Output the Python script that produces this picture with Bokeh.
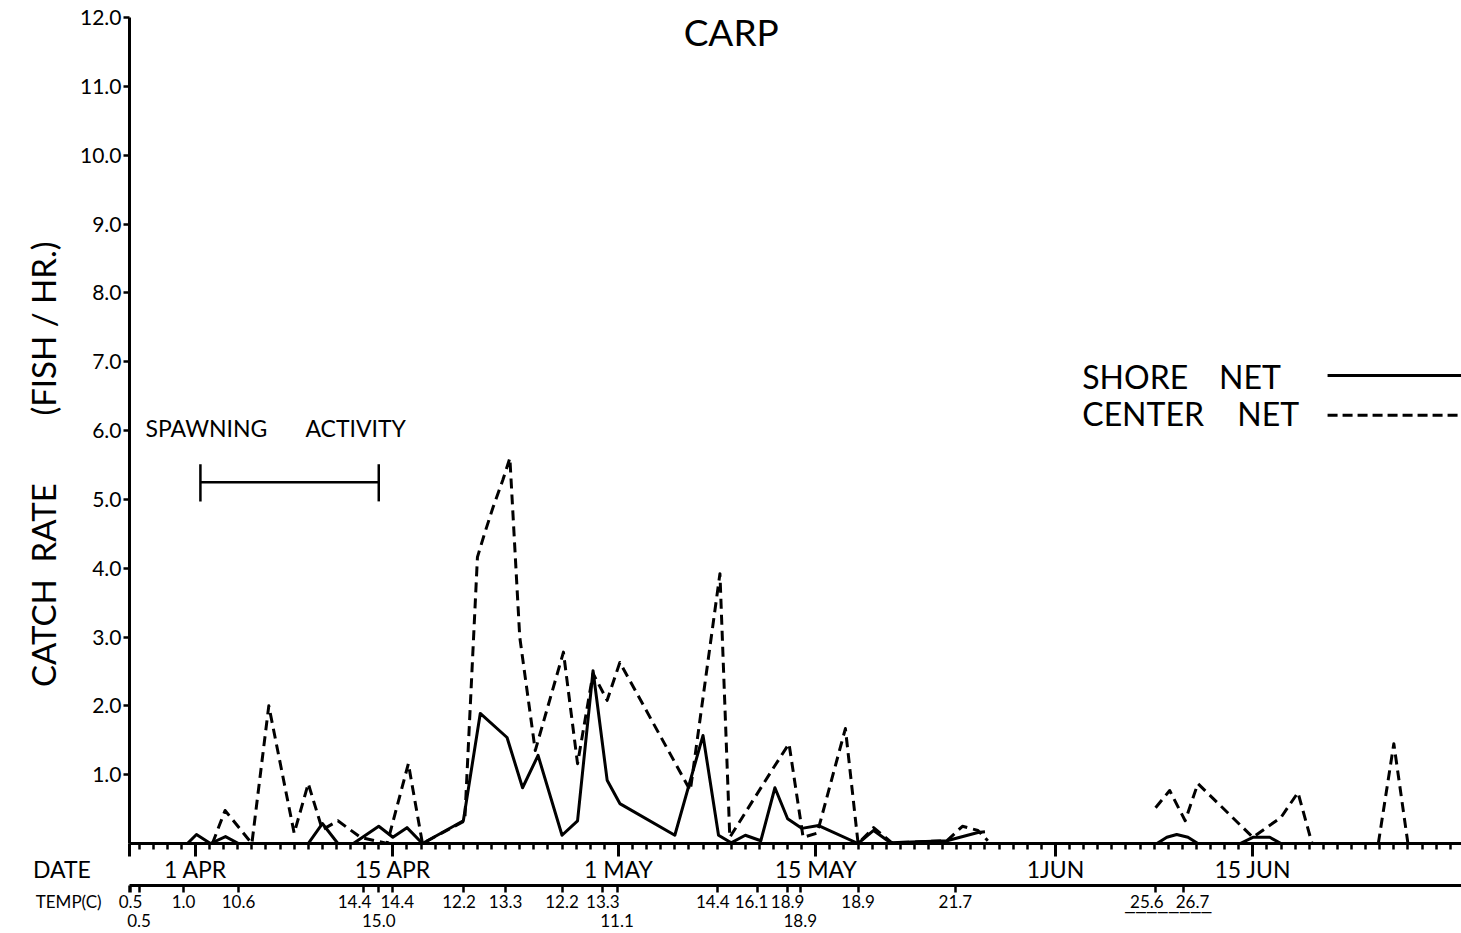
import math

from bokeh.embed import file_html
from bokeh.models import FixedTicker, Label, LinearAxis, Range1d
from bokeh.plotting import figure
from bokeh.resources import INLINE

FONT = "Lato"
NaN = math.nan
NBSP = "\u00a0"

# x positions are days counted from 1 April (day 0)
date_ticks = [0, 14, 30, 44, 61, 75]
date_labels = ["1 APR", "15 APR", "1 MAY", "15 MAY", "1JUN", "15 JUN"]

# shore net catch rate (fish / hr); NaN splits the separate runs of samples
shore_days = [-0.57, 0.07, 1.06, 2.13, 3.05, 8.0, 9.0, 10.1, 11.2, 13.0, 14.0,
              15.0, 16.1, 19.0, 20.2, 22.1, 23.2, 24.3, 26.0, 27.1, 28.2, 29.2,
              30.1, 34.0, 36.0, 37.1, 38.0, 39.0, 40.1, 41.1, 42.0, 43.0, 44.2,
              47.0, 48.1, 49.3, 53.3, 55.5, 56.0, NaN,
              68.2, 68.9, 69.6, 70.4, 71.1, NaN,
              74.1, 75.0, 76.2, 77.0]
shore_rate = [0.0, 0.13, 0.0, 0.10, 0.0, 0.0, 0.29, 0.0, 0.0, 0.25, 0.09,
              0.23, 0.0, 0.33, 1.89, 1.54, 0.81, 1.28, 0.12, 0.33, 2.51, 0.92,
              0.58, 0.12, 1.57, 0.12, 0.01, 0.12, 0.04, 0.81, 0.36, 0.22, 0.26,
              0.0, 0.19, 0.01, 0.04, 0.16, 0.17, NaN,
              0.0, 0.09, 0.13, 0.09, 0.0, NaN,
              0.0, 0.09, 0.09, 0.0]

# center net catch rate (fish / hr)
center_days = [1.2, 2.1, 4.0, 5.2, 7.0, 8.0, 9.0, 10.1, 11.7, 13.6, 15.1, 16.1,
               19.1, 20.0, 20.5, 21.1, 21.8, 22.3, 23.0, 24.1, 26.1, 27.1, 28.2,
               29.2, 30.1, 35.1, 37.2, 37.9, 41.0, 42.1, 43.1, 44.1, 46.1, 47.0,
               48.1, 49.4, 53.3, 54.4, 55.5, 56.2, NaN,
               68.1, 69.1, 70.2, 71.1, 75.0, 77.0, 78.2, 79.2, NaN,
               83.9, 85.0, 86.0]
center_rate = [0.0, 0.48, 0.0, 2.0, 0.15, 0.87, 0.2, 0.33, 0.09, 0.0, 1.16, 0.0,
               0.33, 4.16, 4.5, 4.88, 5.28, 5.6, 3.0, 1.35, 2.78, 1.16, 2.47,
               2.08, 2.63, 0.77, 3.92, 0.09, 1.10, 1.45, 0.09, 0.15, 1.67, 0.0,
               0.23, 0.01, 0.04, 0.25, 0.19, 0.04, NaN,
               0.52, 0.77, 0.33, 0.87, 0.09, 0.38, 0.74, 0.0, NaN,
               0.0, 1.45, 0.0]

# water temperature (C) on sampling days; the second list is printed on a lower row
temp_days = [-4.6, -0.85, 3.05, 11.9, 14.0, 19.0, 22.0, 26.0, 28.9, 37.0, 39.9,
             42.0, 47.0, 53.9, 68.1, 70.1]
temp_values = ["0.5", "1.0", "10.6", "14.4", "14.4", "12.2", "13.3", "12.2",
               "13.3", "14.4", "16.1", "18.9", "18.9", "21.7", "25.6", "26.7"]
temp_days_low = [-4.0, 13.0, 29.9, 42.9]
temp_values_low = ["0.5", "15.0", "11.1", "18.9"]

rate_ticks = list(range(1, 13))

# spawning period bar
spawn_start, spawn_end, spawn_level = 0.35, 13.0, 5.25

X0, X1 = -4.68, 89.8
LEFT_TICK = X0 + 0.01


def nudge(text, spaces):
    """Shift a centred tick label sideways by padding it with no-break spaces."""
    if spaces > 0:
        return NBSP * spaces + text
    return text + NBSP * (-spaces)


# per-label sideways nudges (in spaces) for crowded temperature readings
temp_nudge = {11.9: -4, 14.0: 2, 19.0: -2, 37.0: -2, 39.9: -3, 68.1: -4, 70.1: 4}

p = figure(width=1461, height=933, title=None,
           x_range=Range1d(X0, X1), y_range=Range1d(0, 12),
           output_backend="svg", toolbar_location=None,
           min_border_left=129, min_border_right=0,
           min_border_top=17, min_border_bottom=90)
p.grid.visible = False
p.outline_line_color = None
p.background_fill_color = "white"
p.border_fill_color = "white"

# y axis
ya = p.yaxis[0]
ya.ticker = FixedTicker(ticks=rate_ticks, minor_ticks=[])
ya.major_label_overrides = {t: f"{t}.0" for t in rate_ticks}
ya.axis_line_width = 3
ya.major_tick_line_width = 2.5
ya.major_tick_in = 0
ya.major_tick_out = 6
ya.major_label_standoff = 2
ya.major_label_text_font = FONT
ya.major_label_text_font_size = "21px"
ya.major_label_text_color = "black"
ya.axis_label = (f"CATCH{NBSP * 2}RATE{NBSP * 8}(FISH{NBSP}/{NBSP}HR.)"
                 + NBSP * 8)
ya.axis_label_text_font = FONT
ya.axis_label_text_font_size = "33px"
ya.axis_label_text_font_style = "normal"
ya.axis_label_text_color = "black"
ya.axis_label_standoff = 14

# date axis; its left-end tick carries the row title
xa = p.xaxis[0]
xa.ticker = FixedTicker(ticks=[LEFT_TICK] + date_ticks, minor_ticks=list(range(-4, 90)))
xa.major_label_overrides = {LEFT_TICK: nudge("DATE", -23),
                            **dict(zip(date_ticks, date_labels))}
xa.axis_line_width = 3
xa.major_tick_line_width = 3
xa.minor_tick_line_width = 2.5
xa.major_tick_in = 0
xa.major_tick_out = 13
xa.minor_tick_in = 0
xa.minor_tick_out = 6
xa.major_label_standoff = -2
xa.major_label_text_font = FONT
xa.major_label_text_font_size = "23px"
xa.major_label_text_color = "black"

# temperature row
temp_labels = {d: nudge(v, temp_nudge.get(d, 0)) for d, v in zip(temp_days, temp_values)}
ta = LinearAxis(ticker=FixedTicker(ticks=[LEFT_TICK] + temp_days + temp_days_low,
                                   minor_ticks=[]))
ta.major_label_overrides = {LEFT_TICK: nudge("TEMP(C)", -28), **temp_labels,
                            **{d: "" for d in temp_days_low}}
ta.axis_line_width = 3
ta.major_tick_line_width = 2.5
ta.major_tick_in = 0
ta.major_tick_out = 7
ta.major_label_standoff = -2
ta.major_label_text_font = FONT
ta.major_label_text_font_size = "17px"
ta.major_label_text_color = "black"
p.add_layout(ta, "below")

# lower row of temperatures, plus the bar drawn over the June readings
JUNE_BAR = 69.0
tl = LinearAxis(ticker=FixedTicker(ticks=temp_days_low + [JUNE_BAR], minor_ticks=[]))
tl.major_label_overrides = {**dict(zip(temp_days_low, temp_values_low)),
                            JUNE_BAR: "\u203e" * 8}
tl.axis_line_color = None
tl.major_tick_line_color = None
tl.minor_tick_line_color = None
tl.major_tick_in = 0
tl.major_tick_out = 0
tl.major_label_standoff = -5
tl.major_label_text_font = FONT
tl.major_label_text_font_size = "17px"
tl.major_label_text_color = "black"
p.add_layout(tl, "below")

# catch-rate lines
p.line(shore_days, shore_rate, line_color="black", line_width=3, line_join="round")
p.line(center_days, center_rate, line_color="black", line_width=3,
       line_dash="10 6", line_join="round")

# spawning activity bar with end caps
p.segment(x0=[spawn_start], y0=[spawn_level], x1=[spawn_end], y1=[spawn_level],
          line_color="black", line_width=2.5)
p.segment(x0=[spawn_start, spawn_end], y0=[spawn_level - 0.28] * 2,
          x1=[spawn_start, spawn_end], y1=[spawn_level + 0.26] * 2,
          line_color="black", line_width=2.5)


def label(x, y, text, size, align="left"):
    p.add_layout(Label(x=x, y=y, text=text, text_font=FONT, text_font_size=size,
                       text_color="black", text_align=align,
                       text_baseline="middle"))


label(38.0, 11.8, "CARP", "37px", align="center")
label(-3.55, 6.03, "SPAWNING", "23px")
label(7.8, 6.03, "ACTIVITY", "23px")

# legend
label(62.9, 6.79, "SHORE", "32px")
label(72.6, 6.79, "NET", "32px")
label(62.9, 6.24, "CENTER", "32px")
label(73.9, 6.24, "NET", "32px")
p.segment(x0=[80.3], y0=[6.8], x1=[X1], y1=[6.8], line_color="black", line_width=3)
p.segment(x0=[80.3], y0=[6.22], x1=[X1], y1=[6.22], line_color="black",
          line_width=3, line_dash="10 5")

open("out.html", "w").write(file_html(p, INLINE))
